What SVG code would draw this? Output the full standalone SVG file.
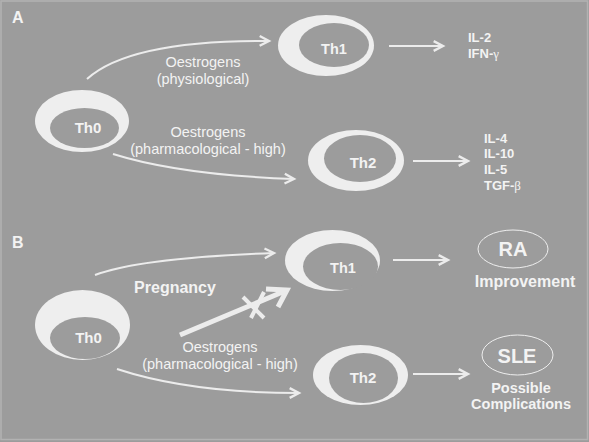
<svg xmlns="http://www.w3.org/2000/svg" width="589" height="442" viewBox="0 0 589 442">
<defs>
<style>
text{font-family:"Liberation Sans",Arial,sans-serif;fill:#f3f3f3}
.b{font-weight:bold}
.lbl{font-size:14.5px}
.th{font-size:15px;font-weight:bold;text-anchor:middle}
.il{font-size:13px;font-weight:bold}
.outer{fill:#eeeeee}
.inner{fill:#9c9c9c}
.conn path,.conn line{fill:none;stroke:#ececec;stroke-width:2}
.gk{font-family:"Liberation Serif",serif;font-weight:normal}
</style>
<marker id="ah" markerUnits="userSpaceOnUse" markerWidth="14" markerHeight="14" refX="9" refY="5" orient="auto" viewBox="0 0 12 10">
<path d="M1,0.8 L9,5 L1,9.2" fill="none" stroke="#ececec" stroke-width="2"/>
</marker>
</defs>
<rect x="0" y="0" width="589" height="442" fill="#9c9c9c"/>
<rect x="1" y="1" width="586.5" height="438.5" fill="none" stroke="#b2b2b2" stroke-width="1.5"/>

<text x="12" y="23" class="b" font-size="16">A</text>
<text x="12" y="248" class="b" font-size="16">B</text>

<g id="A-Th0"><ellipse class="outer" cx="82" cy="121" rx="47" ry="31"/><ellipse class="inner" cx="84.5" cy="128" rx="34.5" ry="20"/><text class="th" x="88" y="133" font-size="16">Th0</text></g>
<g id="A-Th1"><ellipse class="outer" cx="326" cy="45.5" rx="48" ry="30.5"/><ellipse class="inner" cx="334" cy="45" rx="35" ry="22"/><text class="th" x="334" y="54" style="font-size:14.5px">Th1</text></g>
<g id="A-Th2"><ellipse class="outer" cx="356" cy="160.5" rx="48" ry="30.5"/><ellipse class="inner" cx="360" cy="158.5" rx="36" ry="23.5"/><text class="th" x="363" y="168">Th2</text></g>
<g id="A-Th1-out"><text class="il" x="468" y="42">IL-2</text><text class="il" x="468" y="58">IFN-<tspan class="gk">γ</tspan></text></g>
<g id="A-Th2-out"><text class="il" x="484" y="143">IL-4</text><text class="il" x="484" y="158">IL-10</text><text class="il" x="484" y="174">IL-5</text><text class="il" x="484" y="190">TGF-<tspan class="gk">β</tspan></text></g>

<g id="B-Th0"><ellipse class="outer" cx="82.5" cy="325" rx="47.5" ry="35"/><ellipse class="inner" cx="85" cy="338" rx="35" ry="21"/><text class="th" x="88.5" y="343">Th0</text></g>
<g id="B-Th1"><ellipse class="outer" cx="332.5" cy="260.5" rx="47.5" ry="30.5"/><ellipse class="inner" cx="340.5" cy="266.5" rx="37.5" ry="23.5"/><text class="th" x="343" y="273" style="font-size:14.5px">Th1</text></g>
<g id="B-Th2"><ellipse class="outer" cx="360.5" cy="375" rx="47.5" ry="30"/><ellipse class="inner" cx="363.5" cy="378" rx="34.5" ry="25"/><text class="th" x="363" y="383">Th2</text></g>
<g id="B-RA"><ellipse cx="513" cy="249" rx="35" ry="19" fill="none" stroke="#eeeeee" stroke-width="1"/><text class="b" x="513" y="256" font-size="20" text-anchor="middle">RA</text><text class="b" x="525" y="287" font-size="16" text-anchor="middle">Improvement</text></g>
<g id="B-SLE"><ellipse cx="517.5" cy="355" rx="35.5" ry="20" fill="none" stroke="#eeeeee" stroke-width="1"/><text class="b" x="517" y="363" font-size="20" text-anchor="middle">SLE</text><text class="b" x="521" y="393" font-size="14.5" text-anchor="middle">Possible</text><text class="b" x="521" y="409" font-size="14.5" text-anchor="middle">Complications</text></g>

<g id="labels">
<text class="lbl" x="203" y="67" text-anchor="middle">Oestrogens</text>
<text class="lbl" x="203" y="84" text-anchor="middle">(physiological)</text>
<text class="lbl" x="208" y="137" text-anchor="middle">Oestrogens</text>
<text class="lbl" x="208" y="154" text-anchor="middle">(pharmacological - high)</text>
<text class="b" x="175" y="293" font-size="16" text-anchor="middle">Pregnancy</text>
<text class="lbl" x="220" y="352" text-anchor="middle">Oestrogens</text>
<text class="lbl" x="220" y="369" text-anchor="middle">(pharmacological - high)</text>
</g>

<g id="connectors" class="conn">
<path d="M87,79 Q130,40 269,41" marker-end="url(#ah)"/>
<path d="M113,154 Q180,175 294,179" marker-end="url(#ah)"/>
<line x1="389" y1="46" x2="443" y2="46" marker-end="url(#ah)"/>
<line x1="413" y1="161" x2="468" y2="161" marker-end="url(#ah)"/>
<path d="M95,275 Q140,258 274,253" marker-end="url(#ah)"/>
<path d="M117,369 Q190,393 299,393" marker-end="url(#ah)"/>
<line x1="393" y1="260" x2="448" y2="260" marker-end="url(#ah)"/>
<line x1="413" y1="374" x2="468" y2="374" marker-end="url(#ah)"/>
<g id="blocked">
<line x1="180" y1="335" x2="285" y2="291" style="stroke-width:5"/>
<path d="M266,289 L287,290 L278,307" style="stroke-width:5;stroke-linejoin:miter"/>
<line x1="243" y1="297" x2="264" y2="318" style="stroke-width:4"/>
<line x1="251" y1="318" x2="264" y2="292" style="stroke-width:4"/>
</g>
</g>
</svg>
